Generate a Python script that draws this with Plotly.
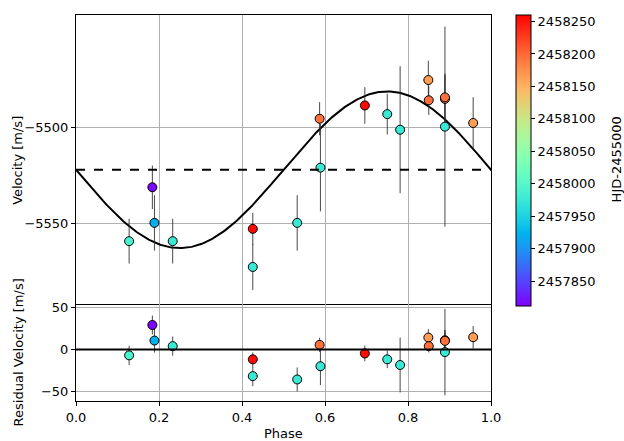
import numpy as np
import plotly.graph_objects as go

# ---------------- data ----------------
phase = [0.128, 0.184, 0.189, 0.233, 0.426, 0.426, 0.533, 0.587, 0.589,
         0.696, 0.750, 0.781, 0.849, 0.850, 0.889, 0.889, 0.889, 0.957]
velocity = [-5559.3, -5531.3, -5549.8, -5559.3, -5552.9, -5572.7, -5549.8,
            -5495.7, -5521.1, -5488.8, -5493.3, -5501.4, -5475.6, -5486.1,
            -5485.4, -5484.6, -5499.8, -5497.9]
vel_err = [11.6, 11.3, 14.4, 11.6, 8.3, 12.0, 14.4, 8.6, 22.7, 9.5, 10.6,
           33.0, 10.0, 7.6, 12.4, 12.4, 52.0, 13.4]
residual = [-7.1, 29.4, 10.7, 4.0, -11.9, -32.1, -36.1, 5.5, -20.2, -4.8,
            -11.9, -18.7, 14.3, 4.0, 11.1, 10.3, -3.2, 14.7]
hjd = [2457990, 2457815, 2457920, 2457975, 2458255, 2457975, 2457975,
       2458195, 2457975, 2458255, 2457975, 2457975, 2458165, 2458195,
       2458195, 2458195, 2457975, 2458165]

# fitted model (circular orbit) parameters
gamma = -5522.2      # systemic velocity
K_amp = 40.7         # semi-amplitude

hjd_min, hjd_max = 2457812, 2458260
cbar_ticks = [2457850, 2457900, 2457950, 2458000, 2458050, 2458100,
              2458150, 2458200, 2458250]
top_yticks = [-5550, -5500]
bot_yticks = [-50, 0, 50]
x_ticks = [0.0, 0.2, 0.4, 0.6, 0.8, 1.0]


def minus(v):
    s = f"{v:g}"
    return s.replace("-", "\u2212")


# matplotlib "rainbow" colormap
def rainbow(t):
    r = min(1.0, abs(2 * t - 0.5))
    g = np.sin(np.pi * t)
    b = np.cos(np.pi * t / 2)
    return f"rgb({int(round(r*255))},{int(round(g*255))},{int(round(b*255))})"


cscale = [[t, rainbow(t)] for t in np.linspace(0, 1, 65)]

model_phase = np.linspace(0, 1, 400)
model_vel = gamma - K_amp * np.sin(2 * np.pi * model_phase)

FONT = "DejaVu Sans"
fig = go.Figure()

fig.add_trace(go.Scatter(x=model_phase, y=model_vel, mode="lines",
                         line=dict(color="black", width=2),
                         xaxis="x", yaxis="y", showlegend=False, hoverinfo="skip"))

marker = dict(color=hjd, coloraxis="coloraxis", size=9,
              line=dict(color="black", width=1))
err_style = dict(type="data", thickness=1, width=0, color="rgba(40,40,40,0.85)")

fig.add_trace(go.Scatter(x=phase, y=velocity, mode="markers", marker=marker,
                         error_y=dict(array=vel_err, **err_style),
                         xaxis="x", yaxis="y", showlegend=False))
fig.add_trace(go.Scatter(x=phase, y=residual, mode="markers", marker=marker,
                         error_y=dict(array=vel_err, **err_style),
                         xaxis="x2", yaxis="y2", showlegend=False))

# dashed systemic velocity, zero residual line
fig.add_shape(type="line", xref="x domain", yref="y", x0=0, x1=1, y0=gamma, y1=gamma,
              line=dict(color="black", width=2, dash="dash"))
fig.add_shape(type="line", xref="x2 domain", yref="y2", x0=0, x1=1, y0=0, y1=0,
              line=dict(color="black", width=2))

axis_common = dict(showline=True, linecolor="black", linewidth=1, mirror=True,
                   showgrid=True, gridcolor="#b0b0b0", gridwidth=1,
                   zeroline=False, ticks="outside", ticklen=4, tickcolor="black",
                   tickfont=dict(family=FONT, size=13, color="black"))
x2_common = {k: v for k, v in axis_common.items() if k != "mirror"}
x1_common = {k: v for k, v in axis_common.items() if k != "ticks"}

top_dom = 0.252
fig.update_layout(
    width=624, height=441,
    margin=dict(l=76, r=133, t=12, b=40),
    plot_bgcolor="white", paper_bgcolor="white",
    font=dict(family=FONT, size=13, color="black"),
    xaxis=dict(domain=[0, 1], range=[0, 1], anchor="y", showticklabels=False,
               tickvals=x_ticks, ticks="", **x1_common),
    yaxis=dict(domain=[top_dom, 1], range=[-5591.8, -5441.8], anchor="x",
               tickvals=top_yticks, ticktext=[minus(v) for v in top_yticks],
               **axis_common),
    xaxis2=dict(domain=[0, 1], range=[0, 1], anchor="y2", mirror=False,
                tickvals=x_ticks, ticktext=[f"{v:.1f}" for v in x_ticks],
                **x2_common),
    yaxis2=dict(domain=[0, top_dom], range=[-62, 55], anchor="x2",
                tickvals=bot_yticks, ticktext=[minus(v) for v in bot_yticks],
                **axis_common),
    coloraxis=dict(
        colorscale=cscale, cmin=hjd_min, cmax=hjd_max,
        colorbar=dict(
            x=1.0602, xanchor="left", xpad=0, y=1, yanchor="top", ypad=0,
            lenmode="pixels", len=291, thickness=15,
            outlinecolor="black", outlinewidth=1,
            ticks="outside", ticklen=4, tickcolor="black",
            tickvals=cbar_ticks, ticktext=[str(v) for v in cbar_ticks],
            tickfont=dict(family=FONT, size=13, color="black"),
        ),
    ),
)

ann = dict(showarrow=False, font=dict(family=FONT, size=13, color="black"))
fig.add_annotation(text="Velocity [m/s]", xref="paper", yref="paper",
                   x=(18 - 76) / 415, y=(401 - 158) / 389, textangle=-90,
                   xanchor="center", yanchor="middle", **ann)
fig.add_annotation(text="Residual Velocity [m/s]", xref="paper", yref="paper",
                   x=(18 - 76) / 415, y=(401 - 352) / 389, textangle=-90,
                   xanchor="center", yanchor="middle", **ann)
fig.add_annotation(text="Phase", xref="paper", yref="paper",
                   x=0.5, y=(401 - 434) / 389,
                   xanchor="center", yanchor="middle", **ann)
fig.add_annotation(text="HJD-2455000", xref="paper", yref="paper",
                   x=(616 - 76) / 415, y=(401 - 157.5) / 389, textangle=-90,
                   xanchor="center", yanchor="middle", **ann)

fig.write_html("out.html")
